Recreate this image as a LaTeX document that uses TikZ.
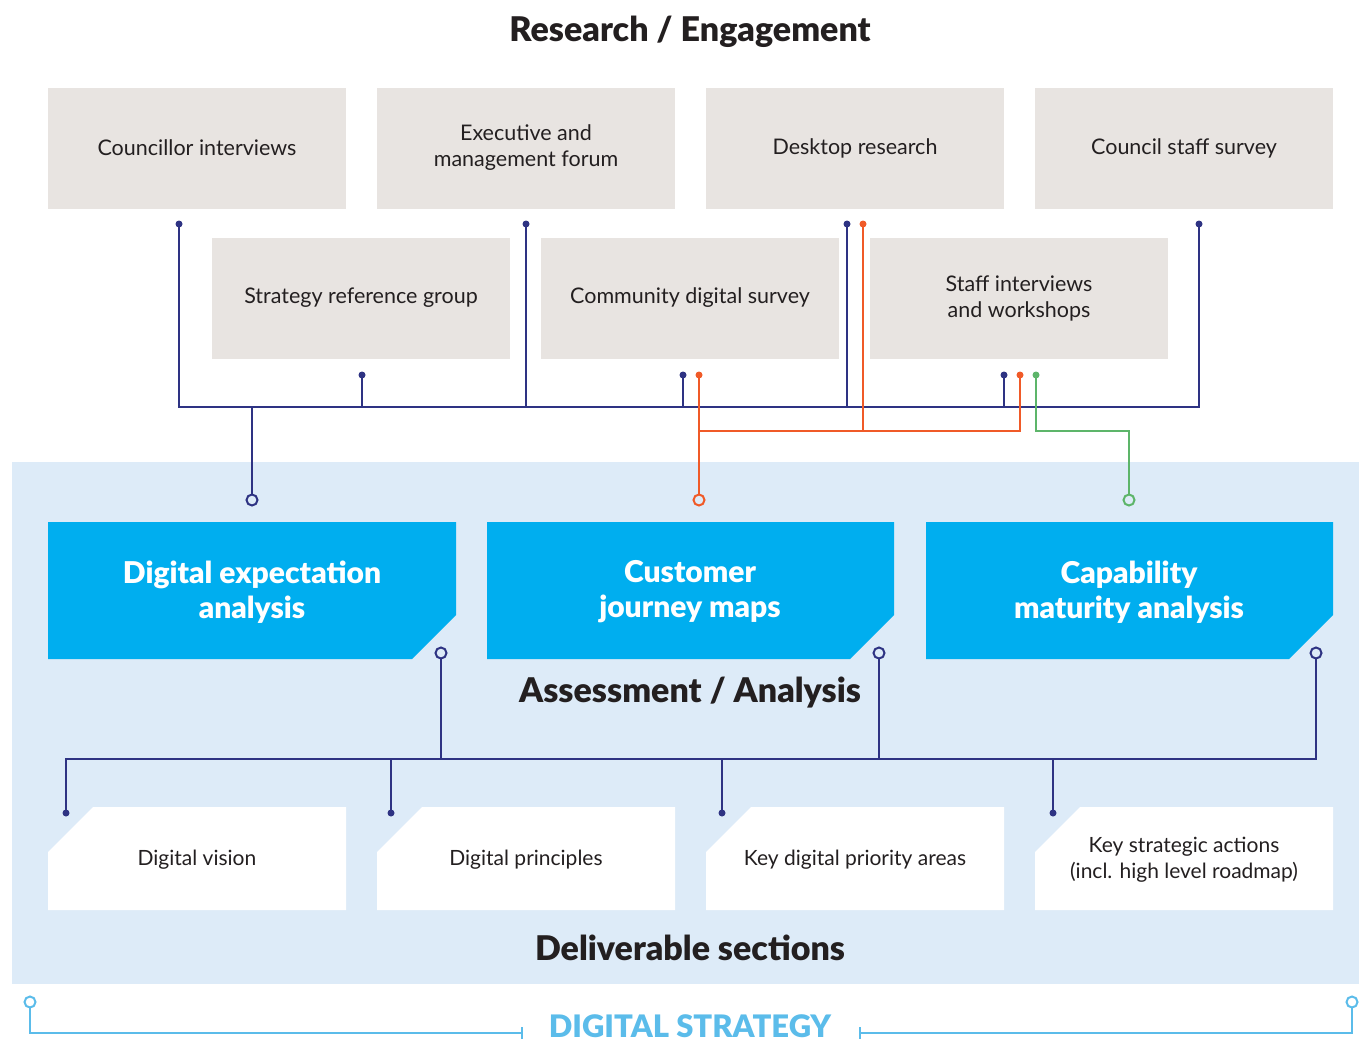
\documentclass[tikz,border=0pt]{standalone}
\usepackage{fontspec}
\setmainfont{Lato}
\newfontfamily\heavy{Lato Black}
\usetikzlibrary{positioning}

\definecolor{navy}{HTML}{2E3383}
\definecolor{orng}{HTML}{F05A28}
\definecolor{grn}{HTML}{5DB56A}
\definecolor{panel}{HTML}{DDEBF8}
\definecolor{greybox}{HTML}{E8E4E1}
\definecolor{cyanbox}{HTML}{00AEEF}
\definecolor{brack}{HTML}{5BBCEA}
\definecolor{ink}{HTML}{231F20}

\begin{document}
\begin{tikzpicture}[x=1pt,y=-1pt]
	\tikzset{
		src/.style={fill=greybox, minimum width=298pt, minimum height=121pt, inner sep=0pt,
			align=center, font=\fontsize{21.5}{26}\selectfont, text=ink},
		deliv/.style={align=center, font=\fontsize{21}{26}\selectfont, text=ink},
		heading/.style={font=\fontsize{34}{38}\heavy, text=ink},
		bluetitle/.style={align=center, font=\fontsize{30}{35}\heavy, text=white},
		wire/.style={line width=2pt},
		pin/.style={circle, fill, inner sep=0pt, minimum size=7pt},
		ring/.style={circle, draw, fill=panel, line width=2pt, inner sep=0pt, minimum size=11pt}
	}
	\useasboundingbox (0,0) rectangle (1359,1044);

	% research / engagement
	\node[heading] (research) at (690,32) {Research / Engagement};
	\node[src] (councillor) at (197,148) {Councillor interviews};
	\node[src] (forum) at (526,148) {Executive and\\management forum};
	\node[src] (desktop) at (855,148) {Desktop research};
	\node[src] (survey) at (1184,148) {Council staff survey};
	\node[src] (refgroup) at (361,298) {Strategy reference group};
	\node[src] (community) at (690,298) {Community digital survey};
	\node[src] (workshops) at (1019,298) {Staff interviews\\and workshops};

	% panel behind analysis and deliverables
	\fill[panel] (12,462) rectangle (1359,984);

	% pins under the source boxes
	\coordinate (p1) at (179,224);
	\coordinate (p2) at (526,224);
	\coordinate (p3) at (847,224);
	\coordinate (p3o) at (863,224);
	\coordinate (p4) at (1199,224);
	\coordinate (p5) at (362,375);
	\coordinate (p6) at (683,375);
	\coordinate (p6o) at (699,375);
	\coordinate (p7) at (1004,375);
	\coordinate (p7o) at (1020,375);
	\coordinate (p7g) at (1036,375);

	% navy bus
	\draw[navy, wire] (p1) -- (179,407) -- (1199,407) -- (p4);
	\draw[navy, wire] (p2) -- (526,407);
	\draw[navy, wire] (p3) -- (847,407);
	\draw[navy, wire] (p5) -- (362,407);
	\draw[navy, wire] (p6) -- (683,407);
	\draw[navy, wire] (p7) -- (1004,407);
	\coordinate (in1) at (252,500);
	\draw[navy, wire] (252,407) -- (in1);
	% orange bus
	\coordinate (in2) at (699,500);
	\draw[orng, wire] (p3o) -- (863,431);
	\draw[orng, wire] (p7o) -- (1020,431) -- (699,431);
	\draw[orng, wire] (p6o) -- (in2);
	% green
	\coordinate (in3) at (1129,500);
	\draw[grn, wire] (p7g) -- (1036,431) -- (1129,431) -- (in3);

	\foreach \p in {p1,p2,p3,p4,p5,p6,p7}
		\node[navy, pin] at (\p) {};
	\foreach \p in {p3o,p6o,p7o}
		\node[orng, pin] at (\p) {};
	\node[grn, pin] at (p7g) {};
	\node[navy, ring] at (in1) {};
	\node[orng, ring] at (in2) {};
	\node[grn, ring] at (in3) {};

	% assessment / analysis
	\fill[cyanbox] (48,522) -- (456,522) -- (456,615) -- (412,659) -- (48,659) -- cycle;
	\fill[cyanbox] (487,522) -- (894,522) -- (894,615) -- (850,659) -- (487,659) -- cycle;
	\fill[cyanbox] (926,522) -- (1333,522) -- (1333,615) -- (1289,659) -- (926,659) -- cycle;
	\node[bluetitle] (expect) at (252,592) {Digital expectation\\analysis};
	\node[bluetitle] (journey) at (690,592) {Customer\\journey maps};
	\node[bluetitle] (maturity) at (1129,592) {Capability\\maturity analysis};
	\node[heading] (assess) at (690,693) {Assessment / Analysis};

	\coordinate (o1) at (441,653);
	\coordinate (o2) at (879,653);
	\coordinate (o3) at (1316,653);
	\coordinate (d1) at (66,813);
	\coordinate (d2) at (391,813);
	\coordinate (d3) at (722,813);
	\coordinate (d4) at (1053,813);
	\draw[navy, wire] (d1) -- (66,759) -- (1316,759) -- (o3);
	\draw[navy, wire] (o1) -- (441,759);
	\draw[navy, wire] (o2) -- (879,759);
	\foreach \x in {391,722,1053}
		\draw[navy, wire] (\x,759) -- (\x,813);
	\foreach \p in {o1,o2,o3}
		\node[navy, ring] at (\p) {};

	% deliverable sections
	\foreach \x in {48,377,706,1035}
		\fill[white] (\x+45,807) -- (\x+298,807) -- (\x+298,910) -- (\x,910) -- (\x,852) -- cycle;
	\foreach \p in {d1,d2,d3,d4}
		\node[navy, pin] at (\p) {};
	\node[deliv] (vision) at (197,860) {Digital vision};
	\node[deliv] (principles) at (526,860) {Digital principles};
	\node[deliv] (priority) at (855,860) {Key digital priority areas};
	\node[deliv] (actions) at (1184,860) {Key strategic actions\\(incl. high level roadmap)};
	\node[heading] (deliverable) at (690,948) {Deliverable sections};

	% digital strategy bracket
	\node[font=\fontsize{31}{34}\heavy, text=brack, inner sep=0pt] (strategy) at (690,1026) {DIGITAL STRATEGY};
	\coordinate (bl) at (30,1002);
	\coordinate (br) at (1352,1002);
	\draw[brack, wire] (bl) -- (30,1033) -- (522,1033);
	\draw[brack, wire] (522,1027) -- (522,1039);
	\draw[brack, wire] (br) -- (1352,1033) -- (860,1033);
	\draw[brack, wire] (860,1027) -- (860,1039);
	\node[brack, ring, fill=white] at (bl) {};
	\node[brack, ring, fill=white] at (br) {};
\end{tikzpicture}
\end{document}
